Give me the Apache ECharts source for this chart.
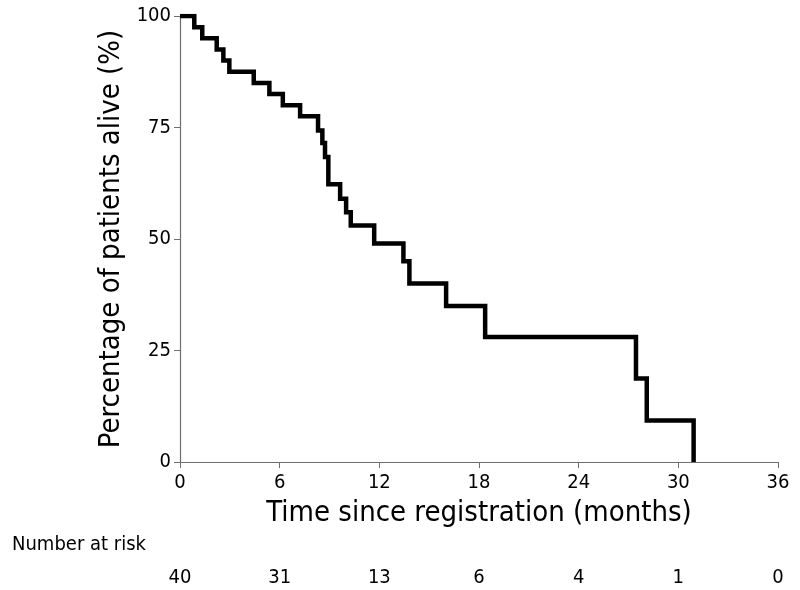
<!DOCTYPE html>
<html><head><meta charset="utf-8">
<script src="https://cdn.jsdelivr.net/npm/echarts@6/dist/echarts.min.js"></script>
<style>html,body{margin:0;padding:0;background:#fff}#c{width:800px;height:590px}</style>
</head><body><div id="c"></div>
<script>
// Kaplan-Meier step data (time in months, survival %)
const times = [0, 0.86, 1.34, 2.21, 2.61, 2.97, 4.44, 5.38, 6.19, 7.23, 8.31, 8.57, 8.73, 8.93, 9.64, 10.0, 10.28, 11.69, 13.45, 13.81, 16.02, 18.37, 27.45, 28.1, 30.92];
const survival = [100, 97.5, 95, 92.5, 90, 87.5, 85, 82.5, 80, 77.5, 74.3, 71.5, 68.4, 62.3, 59, 56, 53, 49, 45, 40, 35, 28, 18.7, 9.3, 0];
const xTicks = [0, 6, 12, 18, 24, 30, 36];
const yTicks = [0, 25, 50, 75, 100];
const riskCounts = [40, 31, 13, 6, 4, 1, 0];

const FONT = "'Liberation Sans Narrow','DejaVu Sans Condensed','Liberation Sans',sans-serif";
const chart = echarts.init(document.getElementById('c'));
const axisGrey = '#6e6e6e';
chart.setOption({
  animation: false,
  backgroundColor: '#fff',
  grid: { left: 180, right: 22, top: 16, bottom: 128 },
  xAxis: [{
    type: 'value', min: xTicks[0], max: xTicks[xTicks.length - 1], interval: 6,
    name: 'Time since registration (months)', nameLocation: 'middle', nameGap: 37,
    nameTextStyle: { fontFamily: FONT, fontSize: 29, color: '#000' },
    axisLine: { show: true, lineStyle: { color: axisGrey, width: 1.2 } },
    axisTick: { show: true, length: 6, lineStyle: { color: axisGrey } },
    axisLabel: { fontFamily: FONT, fontSize: 20, color: '#000', margin: 11 },
    splitLine: { show: false }
  }, {
    type: 'value', min: xTicks[0], max: xTicks[xTicks.length - 1], interval: 6,
    position: 'bottom', offset: 102, gridIndex: 0,
    axisLine: { show: false }, axisTick: { show: false }, splitLine: { show: false },
    axisLabel: {
      fontFamily: FONT, fontSize: 20, color: '#000', margin: 4,
      formatter: v => { const i = xTicks.indexOf(v); return i >= 0 ? String(riskCounts[i]) : ''; }
    }
  }],
  yAxis: {
    type: 'value', min: yTicks[0], max: yTicks[yTicks.length - 1], interval: 25,
    name: 'Percentage of patients alive (%)', nameLocation: 'middle', nameGap: 53,
    nameTextStyle: { fontFamily: FONT, fontSize: 29, color: '#000' },
    axisLine: { show: true, lineStyle: { color: axisGrey, width: 1.2 } },
    axisTick: { show: true, length: 6, lineStyle: { color: axisGrey } },
    axisLabel: { fontFamily: FONT, fontSize: 20, color: '#000', margin: 9 },
    splitLine: { show: false }
  },
  graphic: [{
    type: 'text', left: 12, top: 535,
    style: { text: 'Number at risk', fontFamily: FONT, fontSize: 20, fill: '#000' }
  }],
  series: [{
    type: 'line', step: 'end', symbol: 'none', xAxisIndex: 0,
    data: times.map((t, i) => [t, survival[i]]),
    lineStyle: { color: '#000', width: 4.5, cap: 'butt', join: 'miter' }
  }]
});
</script></body></html>
